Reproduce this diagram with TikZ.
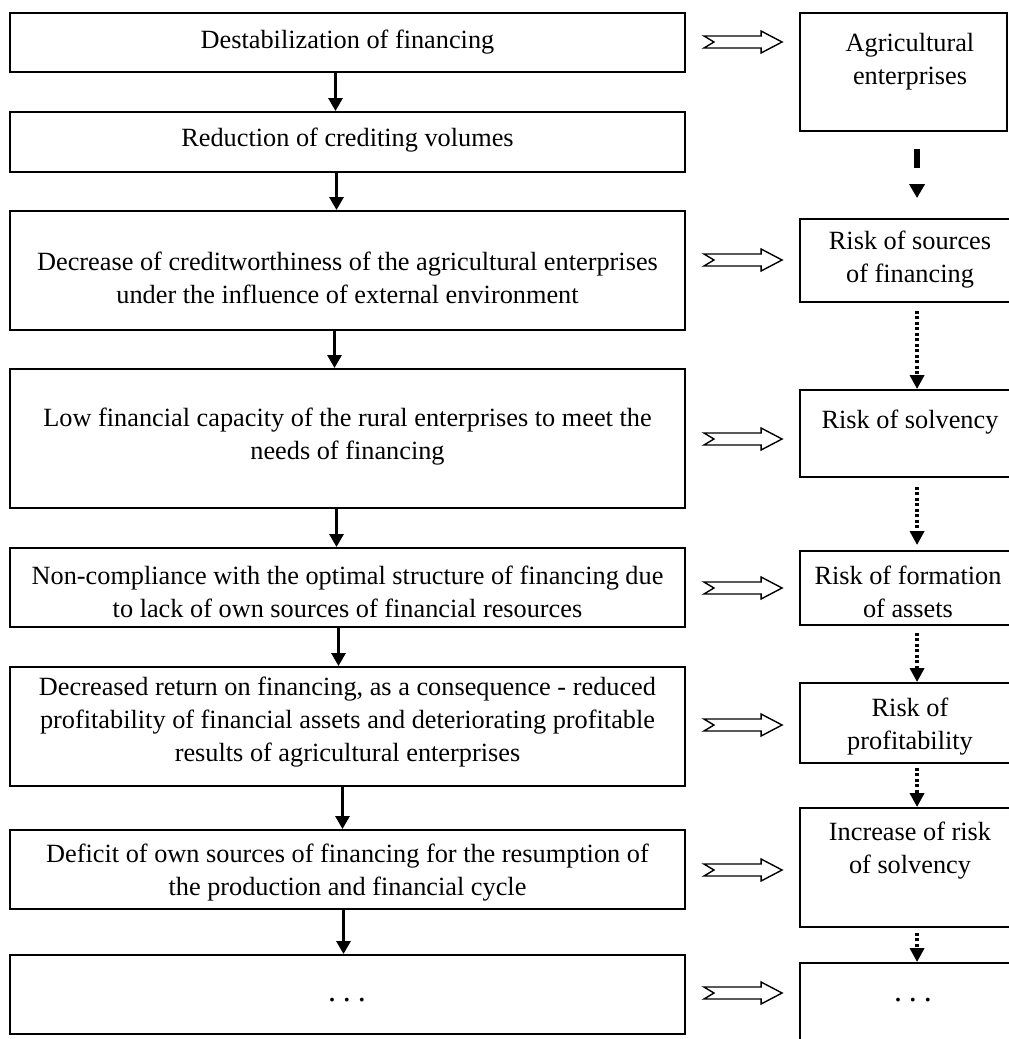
\documentclass[tikz,border=0pt]{standalone}
\usepackage{fontspec}
\setmainfont{Liberation Serif}
\usetikzlibrary{arrows.meta,calc}
\newcommand\hollowarrow[3]{%
  \draw[hollow] let \p1=(#1.east), \p2=(#2.west) in
    ({\x1+18pt},{-#3pt+6pt}) -- ({\x2-38pt},{-#3pt+6pt}) -- ({\x2-38pt},{-#3pt+11pt})
    -- ({\x2-17pt},{-#3pt}) -- ({\x2-38pt},{-#3pt-11pt}) -- ({\x2-38pt},{-#3pt-6pt})
    -- ({\x1+18pt},{-#3pt-6pt}) -- ({\x1+28pt},{-#3pt}) -- cycle;}
\begin{document}
\begin{tikzpicture}[x=1pt,y=1pt,
  box/.style={draw, line width=1.9pt, inner sep=0pt},
  lbox/.style={box, minimum width=675pt},
  rbox/.style={box, minimum width=240pt},
  txt/.style={align=center, font=\fontsize{26.3}{33}\selectfont, inner sep=0pt},
  dots/.style={inner sep=0pt, font=\fontsize{32}{32}\selectfont},
  down/.style={line width=2.8pt, -{Triangle[width=14pt,length=13pt]}},
  dotarrow/.style={line width=3.5pt, dash pattern=on 3pt off 2.5pt, -{Triangle[width=14pt,length=14pt]}},
  bigdash/.style={line width=5.5pt, dash pattern=on 0pt off 17pt on 19pt off 200pt, -{Triangle[width=15pt,length=14pt]}},
  hollow/.style={draw, line width=1.4pt, fill=white, line join=miter}]
\clip (0,0) rectangle (1009,-1039);
\fill[white] (0,0) rectangle (1009,-1039);

% left column boxes
\node[lbox, minimum height=59pt]  (L1) at (347.5,-42.5) {};
\node[lbox, minimum height=60pt]  (L2) at (347.5,-142) {};
\node[lbox, minimum height=119pt] (L3) at (347.5,-270.5) {};
\node[lbox, minimum height=139pt] (L4) at (347.5,-438.5) {};
\node[lbox, minimum height=79pt]  (L5) at (347.5,-587.5) {};
\node[lbox, minimum height=119pt] (L6) at (347.5,-726.5) {};
\node[lbox, minimum height=79pt]  (L7) at (347.5,-869.5) {};
\node[lbox, minimum height=79pt]  (L8) at (347.5,-994.5) {};

\node[txt] (T1) at (347.5,-42) {Destabilization of financing};
\node[txt] (T2) at (347.5,-140) {Reduction of crediting volumes};
\node[txt] (T3) at (347.5,-278) {Decrease of creditworthiness of the agricultural enterprises\\under the influence of external environment};
\node[txt] (T4) at (347.5,-436.5) {Low financial capacity of the rural enterprises to meet the\\needs of financing};
\node[txt] (T5) at (347.5,-592) {Non-compliance with the optimal structure of financing due\\to lack of own sources of financial resources};
\node[txt] (T6) at (347.5,-722) {Decreased return on financing, as a consequence - reduced\\profitability of financial assets and deteriorating profitable\\results of agricultural enterprises};
\node[txt] (T7) at (347.5,-873) {Deficit of own sources of financing for the resumption of\\the production and financial cycle};
\node[dots] (T8) at (347,-1000) {.\kern7pt.\kern7pt.};

% right column boxes
\node[box, minimum width=207pt, minimum height=118pt] (R1) at (903.5,-72) {};
\node[rbox, minimum height=83pt]  (R2) at (920,-260.5) {};
\node[rbox, minimum height=87pt]  (R3) at (920,-433.5) {};
\node[rbox, minimum height=74pt]  (R4) at (920,-588) {};
\node[rbox, minimum height=80pt]  (R5) at (920,-723) {};
\node[rbox, minimum height=119pt] (R6) at (920,-867.5) {};
\node[rbox, minimum height=100pt] (R7) at (920,-1013) {};

\node[txt] (RT1) at (910,-62) {Agricultural\\enterprises};
\node[txt] (RT2) at (910,-260) {Risk of sources\\of financing};
\node[txt] (RT3) at (910,-422) {Risk of solvency};
\node[txt] (RT4) at (908,-592) {Risk of formation\\of assets};
\node[txt] (RT5) at (910,-727) {Risk of\\profitability};
\node[txt] (RT6) at (910,-851) {Increase of risk\\of solvency};
\node[dots] (RT7) at (913,-1000) {.\kern7pt.\kern7pt.};

% left down arrows
\draw[down] ($(L1.south)+(-12,0)$) -- ($(L2.north)+(-12,0)$);
\draw[down] ($(L2.south)+(-11,0)$) -- ($(L3.north)+(-11,0)$);
\draw[down] ($(L3.south)+(-13,0)$) -- ($(L4.north)+(-13,0)$);
\draw[down] ($(L4.south)+(-11,0)$) -- ($(L5.north)+(-11,0)$);
\draw[down] ($(L5.south)+(-9,0)$) -- ($(L6.north)+(-9,0)$);
\draw[down] ($(L6.south)+(-5,0)$) -- ($(L7.north)+(-5,0)$);
\draw[down] ($(L7.south)+(-4,0)$) -- ($(L8.north)+(-4,0)$);

% right down arrows
\draw[bigdash, shorten >=20pt] ($(R1.south west)+(118,0)$) -- ($(R2.north west)+(118,0)$);
\draw[dotarrow, shorten <=8pt] ($(R2.south west)+(118,0)$) -- ($(R3.north west)+(118,0)$);
\draw[dotarrow, shorten <=9pt, shorten >=5pt] ($(R3.south west)+(118,0)$) -- ($(R4.north west)+(118,0)$);
\draw[dotarrow, shorten <=7pt] ($(R4.south west)+(118,0)$) -- ($(R5.north west)+(118,0)$);
\draw[dotarrow, shorten <=4pt] ($(R5.south west)+(118,0)$) -- ($(R6.north west)+(118,0)$);
\draw[dotarrow, shorten <=5pt] ($(R6.south west)+(118,0)$) -- ($(R7.north west)+(118,0)$);

% hollow arrows
\hollowarrow{L1}{R1}{42}
\hollowarrow{L3}{R2}{260}
\hollowarrow{L4}{R3}{439}
\hollowarrow{L5}{R4}{588}
\hollowarrow{L6}{R5}{725}
\hollowarrow{L7}{R6}{870}
\hollowarrow{L8}{R7}{993}
\end{tikzpicture}
\end{document}
